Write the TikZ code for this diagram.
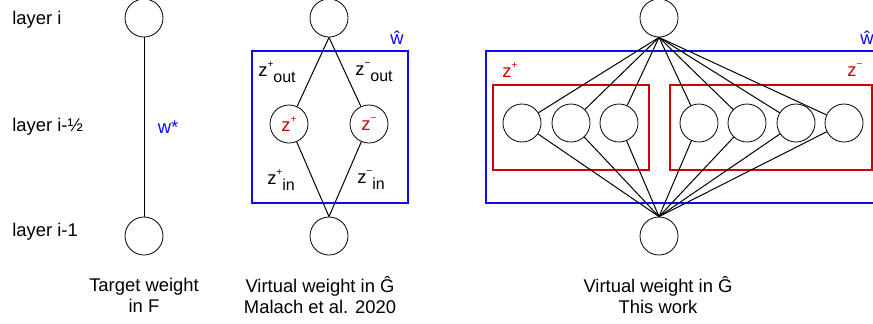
\documentclass[tikz,border=0pt]{standalone}
\usepackage{fontspec}
\setmainfont{Liberation Sans}
\usepackage{xcolor}
\usetikzlibrary{positioning}
\definecolor{wblue}{RGB}{10, 10, 250}
\definecolor{zred}{RGB}{210, 0, 0}
\newcommand{\zsign}[1]{\raisebox{0.9ex}{\fontsize{5}{5}\selectfont #1}}
\newcommand{\zidx}[1]{\raisebox{-0.6ex}{\fontsize{8}{8}\selectfont #1}}

\begin{document}
\begin{tikzpicture}[
    x=0.5pt, y=-0.5pt,
    every node/.style={font=\fontsize{9.2}{10.5}\selectfont},
    neuron/.style={circle, draw, minimum size=19pt, inner sep=0pt},
    conn/.style={line width=0.5pt},
    wbox/.style={draw=wblue, line width=1.1pt},
    zbox/.style={draw=zred, line width=1pt},
    layerlbl/.style={anchor=west, inner sep=0pt},
    caption/.style={align=center},
]
\useasboundingbox (0,0) rectangle (873,323);

% ── Layer labels ──
\node[layerlbl] (li)  at (12,20)  {layer i};
\node[layerlbl] (lih) at (12,127) {layer i-½};
\node[layerlbl] (lim) at (12,232) {layer i-1};

% ── Target weight ──
\node[neuron] (topA) at (144,18)  {};
\node[neuron] (botA) at (144,236) {};
\draw[conn] (topA) -- (botA);
\node[text=wblue] (wstar) at (168,127) {w*};
\node[caption] (capA) at (144,295) {Target weight\\in F};

% ── Malach et al. ──
\draw[wbox] (252,51) rectangle (408,203);
\node[text=wblue] (whatB) at (397,38) {ŵ};
\node[neuron] (topB) at (329,18)  {};
\node[neuron] (botB) at (329,236) {};
\node[neuron] (zp) at (289,124) {\textcolor{zred}{z\zsign{+}}};
\node[neuron] (zm) at (369,124) {\textcolor{zred}{z\zsign{−}}};
\draw[conn] (topB.south) -- (zp);
\draw[conn] (topB.south) -- (zm);
\draw[conn] (zp) -- (botB.north);
\draw[conn] (zm) -- (botB.north);
\node (zpout) at (277,72)  {z\zsign{+}\zidx{out}};
\node (zmout) at (374,72)  {z\zsign{−}\zidx{out}};
\node (zpin)  at (281,180) {z\zsign{+}\zidx{in}};
\node (zmin)  at (371,180) {z\zsign{−}\zidx{in}};
\node[caption] (capB) at (320,295) {Virtual weight in Ĝ\\Malach et al. 2020};

% ── This work ──
\draw[wbox] (486,51) rectangle (880,203);
\node[text=wblue] (whatC) at (867,38) {ŵ};
\draw[zbox] (493,85) rectangle (649,170);
\draw[zbox] (670,85) rectangle (872,170);
\node[text=zred] (zplbl) at (510,70) {z\zsign{+}};
\node[text=zred] (zmlbl) at (855,70) {z\zsign{−}};
\node[neuron] (topC) at (659,18)  {};
\node[neuron] (botC) at (659,236) {};
\node[neuron] (h1) at (522,123) {};
\node[neuron] (h2) at (571,123) {};
\node[neuron] (h3) at (619,123) {};
\node[neuron] (h4) at (699,123) {};
\node[neuron] (h5) at (747,123) {};
\node[neuron] (h6) at (796,123) {};
\node[neuron] (h7) at (844,123) {};
\foreach \h in {h1,h2,h3,h4,h5,h6,h7} {
  \draw[conn] (topC.south) -- (\h);
  \draw[conn] (\h) -- (botC.north);
}
\node[caption] (capC) at (658,295) {Virtual weight in Ĝ\\This work};

\end{tikzpicture}
\end{document}
